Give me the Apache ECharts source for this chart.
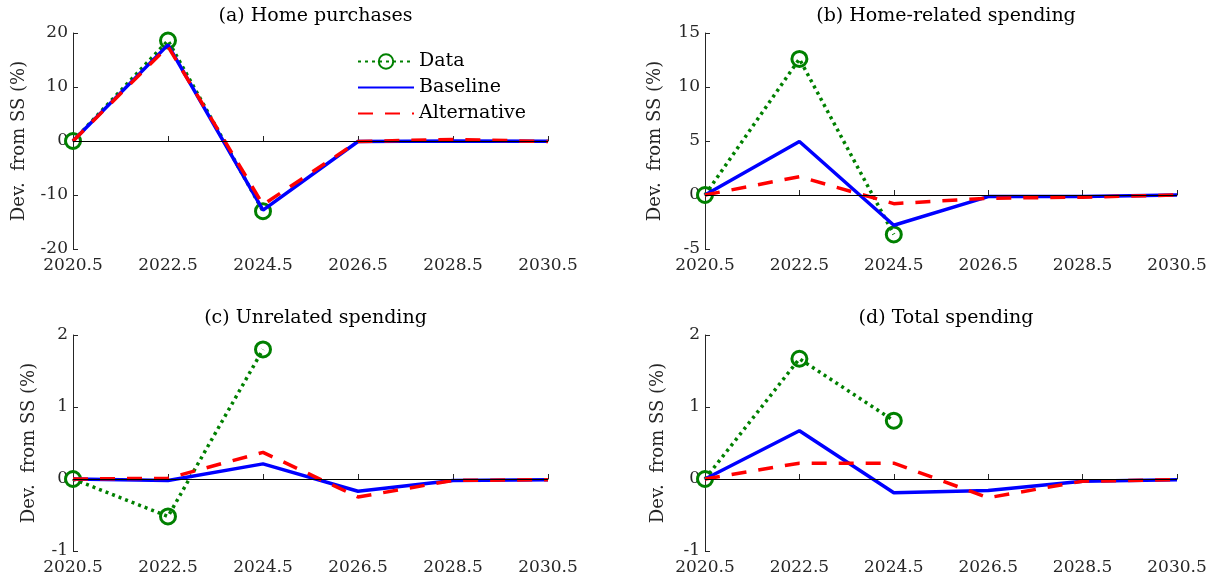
<!DOCTYPE html>
<html><head><meta charset="utf-8">
<script src="https://cdn.jsdelivr.net/npm/echarts@6/dist/echarts.min.js"></script>
<style>html,body{margin:0;padding:0;background:#fff}#c{width:1222px;height:583px}</style>
</head><body><div id="c"></div>
<script>
const categories = ['2020.5','2022.5','2024.5','2026.5','2028.5','2030.5'];
const titles = ['(a) Home purchases','(b) Home-related spending','(c) Unrelated spending','(d) Total spending'];
const yLabel = 'Dev.  from SS (%)';
// Panel (a) Home purchases
const dataA = [0, 18.6, -13.0];
const baseA = [0, 17.8, -12.8, -0.1, 0.0, -0.05];
const altA  = [0, 17.5, -11.8, -0.1, 0.3, -0.1];
// Panel (b) Home-related spending
const dataB = [0, 12.6, -3.65];
const baseB = [0, 4.95, -2.8, -0.15, -0.15, 0.0];
const altB  = [0, 1.7, -0.8, -0.3, -0.2, 0.0];
// Panel (c) Unrelated spending
const dataC = [0, -0.52, 1.80];
const baseC = [0, -0.02, 0.21, -0.17, -0.02, -0.01];
const altC  = [0, 0.01, 0.37, -0.25, -0.02, -0.01];
// Panel (d) Total spending
const dataD = [0, 1.67, 0.81];
const baseD = [0, 0.67, -0.19, -0.16, -0.03, -0.01];
const altD  = [0, 0.22, 0.22, -0.26, -0.03, -0.01];
// y-axis ranges
const yMin = [-20, -5, -1, -1];
const yMax = [20, 15, 2, 2];
const yInt = [10, 5, 1, 1];

const FONT = 'DejaVu Serif';
const TXT = '#262626';
const panels = [[dataA,baseA,altA],[dataB,baseB,altB],[dataC,baseC,altC],[dataD,baseD,altD]];
const grids = [
  {left:73, top:33, width:475, height:216},
  {left:705, top:33, width:472, height:216},
  {left:73, top:335, width:475, height:216},
  {left:705, top:335, width:472, height:216}
];
const nameGaps = [45, 41, 35, 38];

const option = {
  animation:false,
  backgroundColor:'#fff',
  title: grids.map((g,i)=>({
    text: titles[i], left: g.left + g.width/2, top: g.top - 31, textAlign:'center',
    textStyle:{fontFamily:FONT, fontSize:19, fontWeight:'normal', color:'#000'}
  })),
  legend:{
    data:['Data','Baseline','Alternative'], orient:'vertical', left:352, top:47,
    itemWidth:56, itemHeight:18, itemGap:7,
    textStyle:{fontFamily:FONT, fontSize:19, color:'#000'}
  },
  grid: grids,
  xAxis: grids.map((g,i)=>({
    type:'category', gridIndex:i, data:categories, boundaryGap:false,
    axisLine:{lineStyle:{color:TXT, width:1}},
    axisTick:{inside:true, length:5, lineStyle:{color:TXT}},
    axisLabel:{fontFamily:FONT, fontSize:17, color:TXT, margin:8},
    splitLine:{show:false}
  })),
  yAxis: grids.map((g,i)=>({
    type:'value', gridIndex:i, min:yMin[i], max:yMax[i], interval:yInt[i],
    name:yLabel, nameLocation:'middle', nameGap:nameGaps[i],
    nameTextStyle:{fontFamily:FONT, fontSize:18, color:TXT},
    axisLine:{show:true, lineStyle:{color:TXT, width:1}},
    axisTick:{show:true, inside:true, length:5, lineStyle:{color:TXT}},
    axisLabel:{fontFamily:FONT, fontSize:17, color:TXT, margin:5},
    splitLine:{show:false}
  })),
  series: []
};
panels.forEach((p,i)=>{
  option.series.push({
    name:'Data', type:'line', xAxisIndex:i, yAxisIndex:i, data:p[0],
    symbol:'circle', symbolSize:15, showSymbol:true,
    lineStyle:{color:'#008000', width:3.5, type:[3,4]},
    itemStyle:{color:'rgba(0,0,0,0)', borderColor:'#008000', borderWidth:3},
    z:3
  });
  option.series.push({
    name:'Baseline', type:'line', xAxisIndex:i, yAxisIndex:i, data:p[1],
    symbol:'none', lineStyle:{color:'#0000ff', width:3.5}, itemStyle:{color:'rgba(0,0,0,0)'}, z:4
  });
  option.series.push({
    name:'Alternative', type:'line', xAxisIndex:i, yAxisIndex:i, data:p[2],
    symbol:'none', lineStyle:{color:'#ff0000', width:3.5, type:[15,12]}, itemStyle:{color:'rgba(0,0,0,0)'}, z:5,
    markLine:{silent:true, symbol:'none', label:{show:false}, lineStyle:{color:'#000', width:1, type:'solid'},
      data:[{yAxis:0}], z:6, animation:false}
  });
});
const chart = echarts.init(document.getElementById('c'), null, {renderer:'canvas'});
chart.setOption(option);
</script></body></html>
